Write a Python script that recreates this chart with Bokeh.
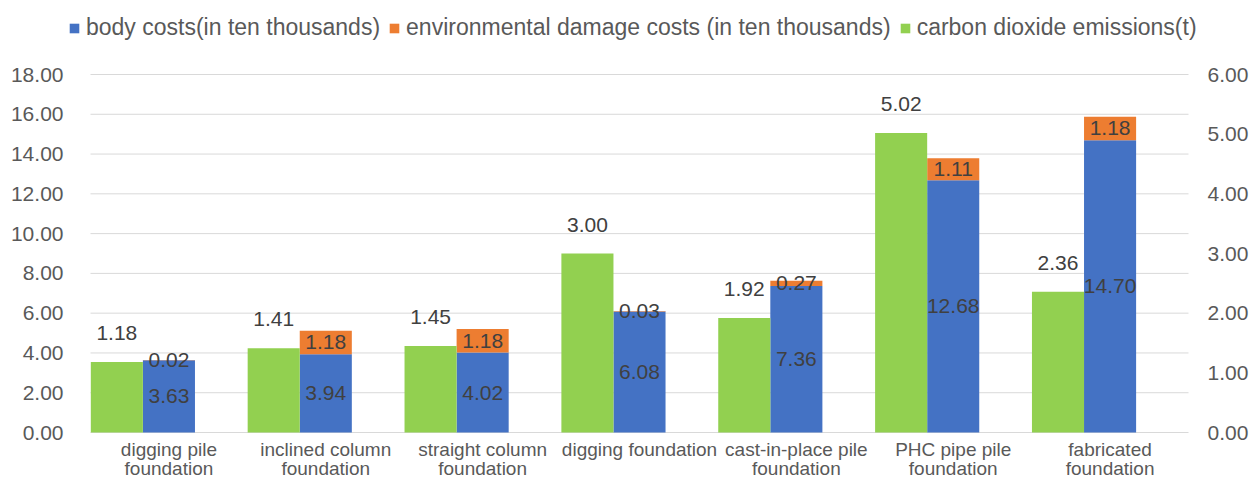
from bokeh.plotting import figure
from bokeh.models import (Range1d, LinearAxis, FixedTicker, NumeralTickFormatter,
                          ColumnDataSource, Legend, LegendItem)
from bokeh.transform import dodge
from bokeh.core.properties import value
from bokeh.embed import file_html
from bokeh.resources import INLINE

# Foundation types and their costs / emissions
categories = [
    "digging pile foundation",
    "inclined column foundation",
    "straight column foundation",
    "digging foundation",
    "cast-in-place pile foundation",
    "PHC pipe pile foundation",
    "fabricated foundation",
]
tick_labels = [
    "digging pile\nfoundation",
    "inclined column\nfoundation",
    "straight column\nfoundation",
    "digging foundation",
    "cast-in-place pile\nfoundation",
    "PHC pipe pile\nfoundation",
    "fabricated\nfoundation",
]
body_costs = [3.63, 3.94, 4.02, 6.08, 7.36, 12.68, 14.70]
env_costs = [0.02, 1.18, 1.18, 0.03, 0.27, 1.11, 1.18]
co2_emissions = [1.18, 1.41, 1.45, 3.00, 1.92, 5.02, 2.36]
left_ticks = [0, 2, 4, 6, 8, 10, 12, 14, 16, 18]
right_ticks = [0, 1, 2, 3, 4, 5, 6]

FONT = "Liberation Sans"
BLUE, ORANGE, GREEN = "#4472C4", "#ED7D31", "#92D050"
GRID = "#D9D9D9"
AXIS_TEXT = "#595959"
LABEL_TEXT = "#404040"
BAR_W = 0.332

# geometry (px): plotting area 90..1188 wide, value 0..18 spans y 432..74.
# The frame is stretched past it so the legend and category names sit inside.
W, H = 1252, 479
PLOT_L, PLOT_R, PLOT_T, PLOT_B = 90, 1188, 74, 432
FRAME_L, FRAME_R = 66, 1206
n = len(categories)
px_x = (PLOT_R - PLOT_L) / n
px_y = (PLOT_B - PLOT_T) / left_ticks[-1]
x_lo = -0.5 - (PLOT_L - FRAME_L) / px_x
x_hi = n - 0.5 + (FRAME_R - PLOT_R) / px_x
y_lo = -(H - PLOT_B) / px_y
y_hi = left_ticks[-1] + PLOT_T / px_y
ratio = left_ticks[-1] / right_ticks[-1]

idx = list(range(n))
totals = [b + e for b, e in zip(body_costs, env_costs)]
src = ColumnDataSource(dict(
    x=idx,
    body=body_costs,
    env=env_costs,
    total=totals,
    body_mid=[b / 2 for b in body_costs],
    env_mid=[b + e / 2 for b, e in zip(body_costs, env_costs)],
    co2=co2_emissions,
    body_lbl=[f"{v:.2f}" for v in body_costs],
    env_lbl=[f"{v:.2f}" for v in env_costs],
    co2_lbl=[f"{v:.2f}" for v in co2_emissions],
    cat_lbl=tick_labels,
    zero=[0] * n,
))

p = figure(width=W, height=H, x_range=Range1d(x_lo, x_hi), y_range=Range1d(y_lo, y_hi),
           output_backend="svg", toolbar_location=None,
           min_border_left=FRAME_L, min_border_right=W - FRAME_R,
           min_border_top=0, min_border_bottom=0)
p.outline_line_color = None
p.background_fill_color = "white"
p.border_fill_color = "white"
p.extra_y_ranges = {"right": Range1d(y_lo / ratio, y_hi / ratio)}

# horizontal gridlines across the plotting area only
p.segment(x0=-0.5, x1=n - 0.5, y0=left_ticks, y1=left_ticks,
          line_color=GRID, line_width=1)

# bars
blue_r = p.vbar(x="x", width=BAR_W, bottom=0, top="body", source=src,
                fill_color=BLUE, line_color=None)
orange_r = p.vbar(x="x", width=BAR_W, bottom="body", top="total", source=src,
                  fill_color=ORANGE, line_color=None)
green_r = p.vbar(x=dodge("x", -BAR_W), width=BAR_W, bottom=0, top="co2", source=src,
                 fill_color=GREEN, line_color=None, y_range_name="right")

# data labels
lbl_kw = dict(source=src, text_align="center", text_baseline="middle",
              text_font=value(FONT), text_font_size="21px", text_color=LABEL_TEXT)
p.text(x="x", y="body_mid", text="body_lbl", **lbl_kw)
p.text(x="x", y="env_mid", text="env_lbl", **lbl_kw)
p.text(x=dodge("x", -BAR_W), y="co2", text="co2_lbl", y_range_name="right",
       y_offset=-29, **lbl_kw)

# category names under the zero line
p.text(x="x", y="zero", text="cat_lbl", source=src, text_align="center",
       text_baseline="top", y_offset=6, text_line_height=0.95,
       text_font=value(FONT), text_font_size="19px", text_color=AXIS_TEXT)

# value axes
p.yaxis.ticker = FixedTicker(ticks=left_ticks)
p.yaxis.formatter = NumeralTickFormatter(format="0.00")
right_axis = LinearAxis(y_range_name="right", ticker=FixedTicker(ticks=right_ticks),
                        formatter=NumeralTickFormatter(format="0.00"))
p.add_layout(right_axis, "right")

for ax in (p.yaxis[0], right_axis):
    ax.axis_line_color = None
    ax.major_tick_line_color = None
    ax.minor_tick_line_color = None
    ax.major_tick_out = 0
    ax.major_tick_in = 0
    ax.major_label_text_font = FONT
    ax.major_label_text_font_size = "21px"
    ax.major_label_text_color = AXIS_TEXT
p.yaxis[0].major_label_standoff = 3
right_axis.major_label_standoff = 1

p.xaxis.visible = False
p.xgrid.grid_line_color = None
p.ygrid.grid_line_color = None

legend = Legend(items=[
    LegendItem(label="body costs(in ten thousands)", renderers=[blue_r]),
    LegendItem(label="environmental damage costs (in ten thousands)", renderers=[orange_r]),
    LegendItem(label="carbon dioxide emissions(t)", renderers=[green_r]),
], orientation="horizontal", location=(2, 438),
    glyph_width=12, glyph_height=12, label_standoff=6, spacing=8,
    padding=0, margin=0, border_line_color=None, background_fill_alpha=0,
    label_text_font=FONT, label_text_font_size="23px", label_text_color=AXIS_TEXT)
p.add_layout(legend, "center")

open("out.html", "w").write(file_html(p, INLINE))
